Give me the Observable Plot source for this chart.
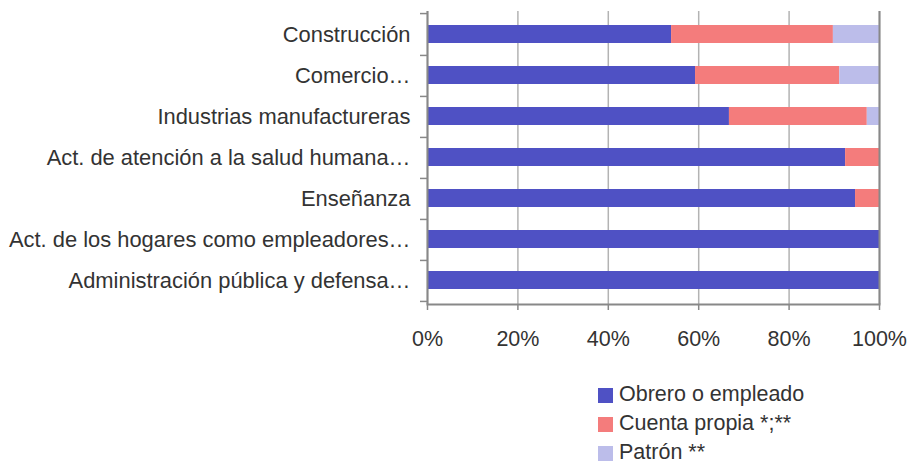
<!DOCTYPE html>
<html><head><meta charset="utf-8">
<script src="https://cdn.jsdelivr.net/npm/d3@7"></script>
<script src="https://cdn.jsdelivr.net/npm/@observablehq/plot@0.6"></script>
<style>
body{margin:0;background:#fff;font-family:"Liberation Sans",Arial,sans-serif;}
#wrap{position:relative;width:908px;height:463px;overflow:hidden;}
#legend{position:absolute;left:598px;top:380.5px;font-size:21.5px;color:#333;}
.item{display:flex;align-items:center;height:29px;}
.item span{line-height:1;}
.sw{width:15px;height:15px;margin-right:6px;flex:none;}
</style></head><body><div id="wrap"></div>
<script>
const categories = [
  "Construcción",
  "Comercio…",
  "Industrias manufactureras",
  "Act. de atención a la salud humana…",
  "Enseñanza",
  "Act. de los hogares como empleadores…",
  "Administración pública y defensa…"
];
const series = ["Obrero o empleado", "Cuenta propia *;**", "Patrón **"];
const obrero       = [54.0, 59.3, 66.8, 92.5, 94.7, 100, 100];
const cuentaPropia = [35.8, 31.9, 30.5, 7.5, 5.3, 0, 0];
const patron       = [10.2, 8.8, 2.7, 0, 0, 0, 0];
const colors = ["#4f51c4", "#f47c7c", "#bcbdea"];
const xTicks = [0, 20, 40, 60, 80, 100];

const seriesValues = [obrero, cuentaPropia, patron];
const data = [];
series.forEach((s, si) => categories.forEach((c, ci) => data.push({cat: c, series: s, value: seriesValues[si][ci]})));

const W = 908, H = 375, mT = 11, mB = 71, mL = 427, mR = 29;
const step = (H - mT - mB) / categories.length;
const axisColor = "#888";

const chart = Plot.plot({
  width: W, height: H,
  marginTop: mT, marginBottom: mB, marginLeft: mL, marginRight: mR,
  style: {fontFamily: "'Liberation Sans', Arial, sans-serif", fontSize: "21.5px", color: "#333", background: "#fff", overflow: "visible"},
  x: {domain: [0, 100]},
  y: {domain: categories, paddingInner: 0.55, paddingOuter: 0.275},
  color: {domain: series, range: colors},
  marks: [
    Plot.gridX(xTicks, {stroke: "#b3b3b3", strokeOpacity: 1, strokeWidth: 1.5}),
    Plot.barX(data, Plot.stackX({x: "value", y: "cat", fill: "series"})),
    Plot.ruleX([0, 100], {stroke: axisColor, strokeWidth: 2}),
    Plot.frame({anchor: "bottom", stroke: axisColor, strokeWidth: 2}),
    Plot.axisX({ticks: xTicks, tickFormat: d => d + "%", tickSize: 6, tickPadding: 20, stroke: axisColor, strokeWidth: 1.5, fill: "#333", label: null}),
    Plot.axisY({tickSize: 0, tickPadding: 17, fill: "#333", fontSize: 21.9, label: null}),
    Plot.axisY({ticks: categories, text: null, tickSize: 7, dy: step / 2, stroke: axisColor, strokeWidth: 1.5, label: null}),
    Plot.axisY({ticks: categories.slice(0, 1), text: null, tickSize: 7, dy: -step / 2, stroke: axisColor, strokeWidth: 1.5, label: null})
  ]
});
const wrap = document.getElementById("wrap");
wrap.appendChild(chart);

const legend = document.createElement("div");
legend.id = "legend";
series.forEach((s, i) => {
  const item = document.createElement("div");
  item.className = "item";
  const sw = document.createElement("div");
  sw.className = "sw";
  sw.style.background = colors[i];
  const t = document.createElement("span");
  t.textContent = s;
  item.appendChild(sw); item.appendChild(t);
  legend.appendChild(item);
});
wrap.appendChild(legend);
</script></body></html>
